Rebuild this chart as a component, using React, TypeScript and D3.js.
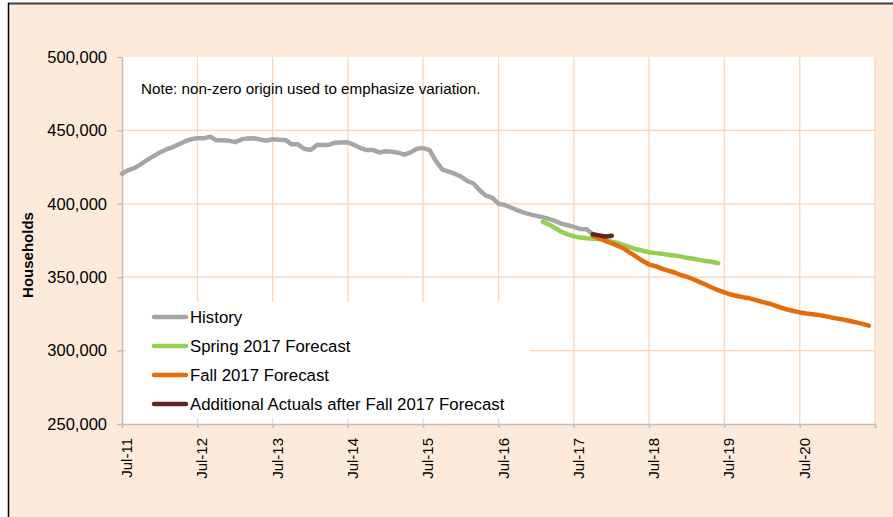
import React, { useEffect, useRef } from 'react';
import * as d3 from 'd3';

// series names + colours
const seriesNames = ['History', 'Spring 2017 Forecast', 'Fall 2017 Forecast', 'Additional Actuals after Fall 2017 Forecast'];
const seriesColors = ['#A6A6A6', '#92D050', '#E46C0A', '#632523'];

// monthly values, start = months after Jul-11
const historyStart = 0;
const history = [
  420500, 423000, 424500, 427000, 430000, 432500, 435000, 437000, 438500, 440500, 442500, 444000,
  444600, 444600, 445700, 443300, 443300, 443000, 442000, 444000, 444500, 444600, 443800, 443000,
  444000, 443600, 443500, 440500, 440500, 437500, 436600, 440000, 440000, 440300, 441600, 441800,
  441900, 440000, 438000, 436600, 436600, 435000, 435800, 435500, 434800, 433500, 435000, 437500,
  438000, 436500, 429000, 423500, 422000, 420500, 418500, 415500, 413800, 409000, 405500, 404000,
  400000, 399200, 397300, 395500, 394000, 392800, 391800, 390800, 389800, 388300, 386500, 385400,
  384300, 382800, 382600, 379300,
];

const springStart = 67;
const spring = [
  387600, 386000, 383500, 381000, 379200, 377800, 377000, 376500, 376200, 376000, 375600, 374200,
  373300, 371800, 370300, 369000, 368000, 367000, 366400, 366000, 365300, 364800, 364200, 363200,
  362600, 361800, 361000, 360500, 359500,
];

const fallStart = 75;
const fall = [
  378300, 376500, 374800, 373000, 371300, 369500, 366500, 363800, 361000, 358600, 357500, 355800,
  354500, 353200, 351500, 350200, 348600, 346800, 345000, 343000, 341200, 339600, 338200, 337200,
  336300, 335600, 334400, 333200, 332100, 330800, 329300, 328000, 327000, 326000, 325300, 324800,
  324200, 323500, 322600, 321800, 321000, 320200, 319200, 318200, 317000,
];

const actualsStart = 75;
const actuals = [379200, 378500, 377700, 378200];

const yTicks = [250000, 300000, 350000, 400000, 450000, 500000];
const yGridTicks = [300000, 350000, 400000, 450000];
const xTickYears = [2011, 2012, 2013, 2014, 2015, 2016, 2017, 2018, 2019, 2020];
const xGridYears = [2012, 2013, 2014, 2015, 2016, 2017, 2018, 2019, 2020, 2021];

const noteText = 'Note: non-zero origin used to emphasize variation.';
const yTitle = 'Households';

const FONT = '"Liberation Sans", Arial, sans-serif';

const monthDate = (m: number) => new Date(Date.UTC(2011, 6 + m, 1));

const App = () => {
  const svgRef = useRef<SVGSVGElement>(null);

  useEffect(() => {
    const W = 893, H = 517;
    const left = 122, right = 875, top = 57, bottom = 424;

    const svg = d3.select(svgRef.current);
    svg.selectAll('*').remove();

    // outer panel
    svg.append('rect').attr('x', 8).attr('y', 3).attr('width', W).attr('height', H).attr('fill', '#FDEADA');
    svg.append('line').attr('x1', 8).attr('x2', W).attr('y1', 3.5).attr('y2', 3.5).attr('stroke', '#404040').attr('stroke-width', 2);
    svg.append('line').attr('x1', 8.5).attr('x2', 8.5).attr('y1', 3).attr('y2', H).attr('stroke', '#000').attr('stroke-width', 1.5);

    const x = d3.scaleUtc()
      .domain([monthDate(0), monthDate(120)])
      .range([left, right]);
    const y = d3.scaleLinear()
      .domain([250000, 500000])
      .range([bottom, top]);

    // plot area
    svg.append('rect').attr('x', left).attr('y', top).attr('width', right - left).attr('height', bottom - top).attr('fill', '#fff');

    const grid = '#FCD5B5';
    svg.append('g').selectAll('line').data(yGridTicks).enter().append('line')
      .attr('x1', left).attr('x2', right)
      .attr('y1', d => y(d)).attr('y2', d => y(d))
      .attr('stroke', grid).attr('stroke-width', 1.3);
    svg.append('g').selectAll('line').data(xGridYears).enter().append('line')
      .attr('x1', d => x(monthDate((d - 2011) * 12))).attr('x2', d => x(monthDate((d - 2011) * 12)))
      .attr('y1', top).attr('y2', bottom + 4)
      .attr('stroke', grid).attr('stroke-width', 1.3);

    // legend box (covers the grid)
    svg.append('rect').attr('x', 127).attr('y', 302).attr('width', 403).attr('height', 116).attr('fill', '#fff');

    // y axis
    const yAxis = svg.append('g')
      .attr('transform', `translate(${left},0)`)
      .call(d3.axisLeft(y).tickValues(yTicks).tickSize(5).tickSizeOuter(0).tickPadding(10).tickFormat(d3.format(',')));
    yAxis.select('.domain').attr('stroke', '#BFBFBF').attr('stroke-width', 1.5);
    yAxis.selectAll('.tick line').attr('stroke', '#BFBFBF').attr('stroke-width', 1.3);
    yAxis.selectAll('.tick text').style('font-family', FONT).style('font-size', '16.5px').attr('fill', '#000');

    // x axis
    const xAxis = svg.append('g')
      .attr('transform', `translate(0,${bottom})`)
      .call(d3.axisBottom(x)
        .tickValues(xTickYears.map(yr => monthDate((yr - 2011) * 12)))
        .tickSize(4).tickSizeOuter(4)
        .tickFormat(d => d3.utcFormat('%b-%y')(d as Date)));
    xAxis.select('.domain').attr('stroke', '#BFBFBF').attr('stroke-width', 1.5);
    xAxis.selectAll('.tick line').attr('stroke', '#BFBFBF').attr('stroke-width', 1.3);
    xAxis.selectAll('.tick text')
      .attr('transform', 'rotate(-90)')
      .attr('x', -14).attr('y', 0).attr('dy', '0.63em')
      .attr('text-anchor', 'end')
      .style('font-family', FONT).style('font-size', '15px').attr('fill', '#000');

    // y title
    svg.append('text')
      .attr('transform', 'translate(33,255) rotate(-90)')
      .attr('text-anchor', 'middle')
      .style('font-family', FONT).style('font-size', '15px').style('font-weight', 'bold')
      .text(yTitle);

    // note
    svg.append('text').attr('x', 141).attr('y', 94)
      .style('font-family', FONT).style('font-size', '15.2px')
      .text(noteText);

    // series
    const line = d3.line<[number, number]>()
      .x(d => x(monthDate(d[0])))
      .y(d => y(d[1]));
    const series: [number, number][][] = [
      history.map((v, i) => [historyStart + i, v]),
      spring.map((v, i) => [springStart + i, v]),
      fall.map((v, i) => [fallStart + i, v]),
      actuals.map((v, i) => [actualsStart + i, v]),
    ];
    svg.append('g').selectAll('path').data(series).enter().append('path')
      .attr('d', d => line(d))
      .attr('fill', 'none')
      .attr('stroke', (d, i) => seriesColors[i])
      .attr('stroke-width', 4.5)
      .attr('stroke-linejoin', 'round')
      .attr('stroke-linecap', 'round');

    // legend
    const lg = svg.append('g').selectAll('g').data(seriesNames).enter().append('g')
      .attr('transform', (d, i) => `translate(152,${317 + i * 29})`);
    lg.append('line').attr('x1', 2).attr('x2', 34).attr('y1', 0).attr('y2', 0)
      .attr('stroke', (d, i) => seriesColors[i]).attr('stroke-width', 4.5).attr('stroke-linecap', 'round');
    lg.append('text').attr('x', 38).attr('y', 0).attr('dy', '0.35em')
      .style('font-family', FONT).style('font-size', '16.8px')
      .text(d => d);
  }, []);

  return (
    <svg ref={svgRef} width={893} height={517} style={{ position: 'absolute', left: 0, top: 0 }}></svg>
  );
};

export default App;
